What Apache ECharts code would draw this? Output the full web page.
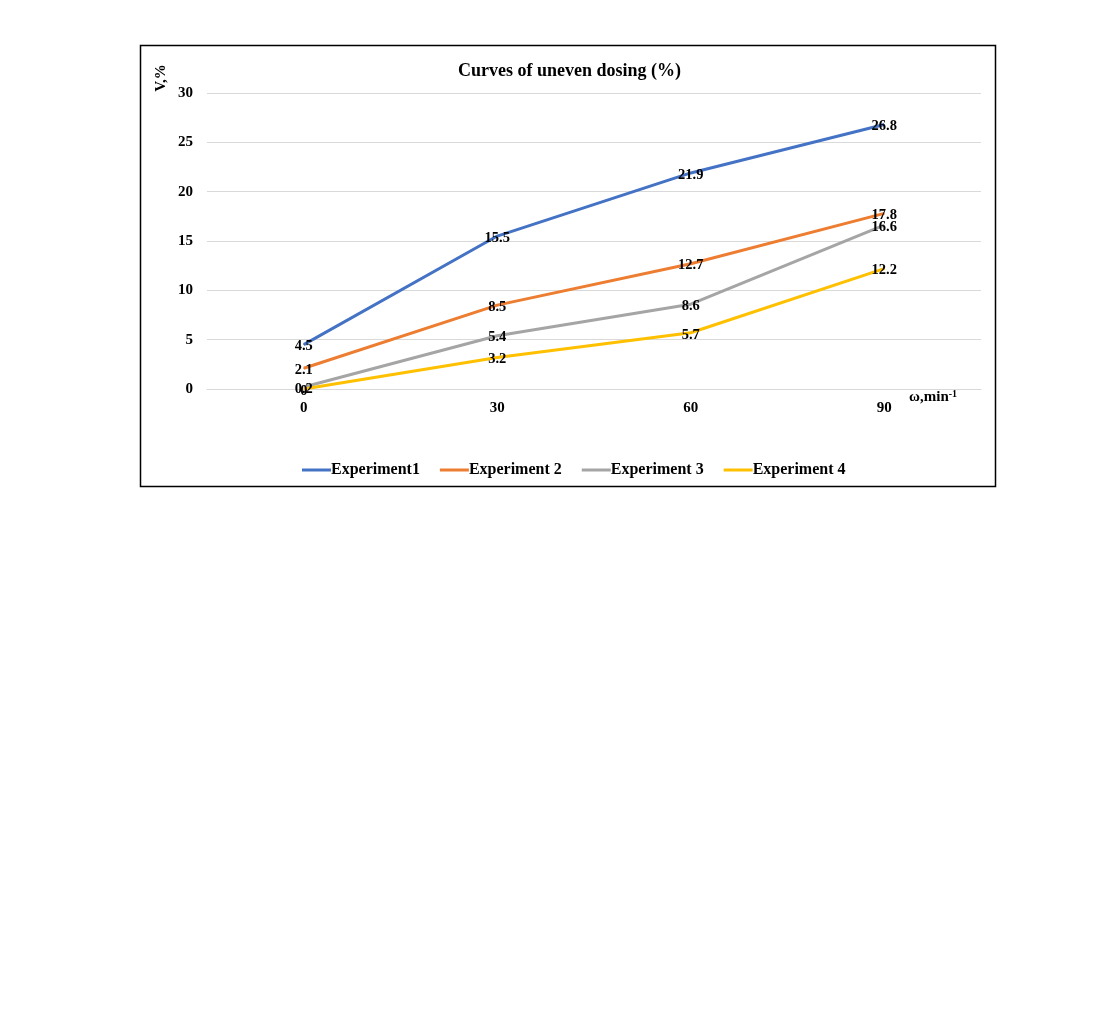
<!DOCTYPE html>
<html>
<head>
<meta charset="utf-8">
<title>Curves of uneven dosing</title>
<script src="https://cdn.jsdelivr.net/npm/echarts@6/dist/echarts.min.js"></script>
<style>
  html, body { margin: 0; padding: 0; background: #fff; }
  #chart { width: 1100px; height: 1014px; }
</style>
</head>
<body>
<div id="chart"></div>
<script>
// 横轴 ω, min-1
var speeds = ['0', '30', '60', '90'];
var seriesNames = ['Experiment1', 'Experiment 2', 'Experiment 3', 'Experiment 4'];
var exp1 = [4.5, 15.5, 21.9, 26.8];
var exp2 = [2.1, 8.5, 12.7, 17.8];
var exp3 = [0.2, 5.4, 8.6, 16.6];
var exp4 = [0, 3.2, 5.7, 12.2];
var yTicks = [0, 5, 10, 15, 20, 25, 30];

var colors = ['#4472C4', '#ED7D31', '#A5A5A5', '#FFC000'];
var font = 'Liberation Serif, Times New Roman, serif';

function makeLine(name, data, color) {
    return {
        name: name,
        type: 'line',
        data: data,
        symbol: 'circle',
        symbolSize: 1,
        itemStyle: { color: color },
        lineStyle: { width: 3, color: color },
        label: {
            show: true,
            position: 'inside',
            offset: [0, 2],
            color: '#000',
            fontWeight: 'bold',
            fontSize: 14.5,
            fontFamily: font
        },
        emphasis: { disabled: true }
    };
}

var chart = echarts.init(document.getElementById('chart'));
var option = {
    animation: false,
    backgroundColor: '#fff',
    title: {
        text: 'Curves of uneven dosing (%)',
        left: 453,
        top: 57,
        textStyle: { fontFamily: font, fontWeight: 'bold', fontSize: 18, color: '#000' }
    },
    //外框 + 纵轴名
    graphic: [{
        type: 'rect',
        shape: { x: 140.5, y: 45.5, width: 855, height: 441 },
        style: { fill: 'none', stroke: '#000', lineWidth: 1.5 },
        silent: true
    }, {
        type: 'text',
        x: 161,
        y: 78,
        rotation: Math.PI / 2,
        style: {
            text: 'V,%',
            fill: '#000',
            font: 'bold 15px ' + font,
            align: 'center',
            verticalAlign: 'middle'
        },
        silent: true
    }],
    legend: {
        data: seriesNames,
        left: 297,
        top: 457,
        itemWidth: 29,
        itemHeight: 3,
        itemGap: 20,
        icon: 'rect',
        textStyle: { fontFamily: font, fontWeight: 'bold', fontSize: 16, color: '#000', padding: [0, 0, 0, -5] }
    },
    grid: { left: 207, right: 119, top: 93, bottom: 625, containLabel: false },
    xAxis: {
        type: 'category',
        data: speeds,
        boundaryGap: true,
        name: '{b|ω,min}{s|-1}',
        nameLocation: 'end',
        nameGap: -72,
        nameTextStyle: {
            verticalAlign: 'top',
            padding: [0, 0, 0, 0],
            rich: {
                b: { fontFamily: font, fontWeight: 'bold', fontSize: 15, color: '#000' },
                s: { fontFamily: font, fontWeight: 'bold', fontSize: 10, color: '#000', verticalAlign: 'top', padding: [0, 0, 6, 0] }
            }
        },
        axisLine: { show: true, lineStyle: { color: '#d9d9d9', width: 1 } },
        axisTick: { show: false },
        axisLabel: { fontFamily: font, fontWeight: 'bold', fontSize: 15, color: '#000', margin: 12 }
    },
    yAxis: {
        type: 'value',
        min: 0,
        max: 30,
        interval: 5,
        axisLine: { show: false },
        axisTick: { show: false },
        axisLabel: {
            fontFamily: font, fontWeight: 'bold', fontSize: 15, color: '#000', margin: 14,
            formatter: function (v) { return yTicks.indexOf(v) >= 0 ? String(v) : ''; }
        },
        splitLine: { lineStyle: { color: '#d9d9d9', width: 1 } }
    },
    series: [
        makeLine(seriesNames[0], exp1, colors[0]),
        makeLine(seriesNames[1], exp2, colors[1]),
        makeLine(seriesNames[2], exp3, colors[2]),
        makeLine(seriesNames[3], exp4, colors[3])
    ]
};
chart.setOption(option);
</script>
</body>
</html>
